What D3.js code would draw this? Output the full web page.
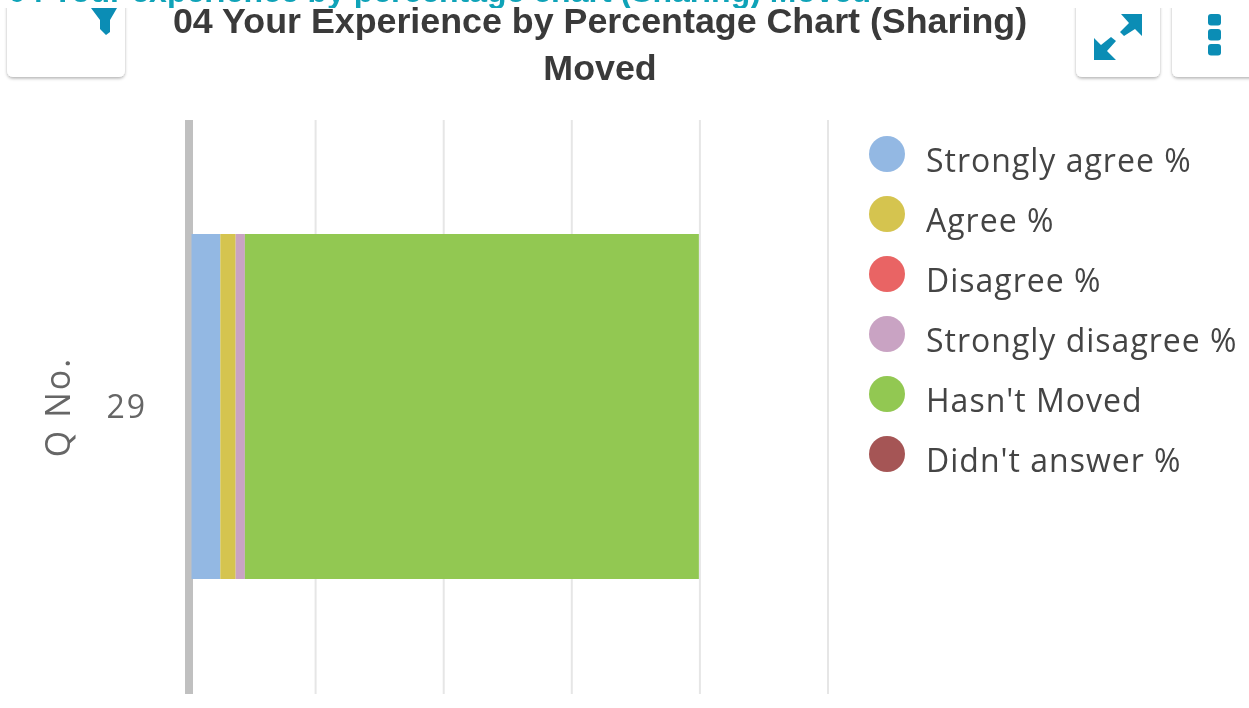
<!DOCTYPE html>
<html><head><meta charset="utf-8">
<script src="https://cdnjs.cloudflare.com/ajax/libs/d3/7.8.5/d3.min.js"></script>
<style>html,body{margin:0;padding:0;background:#fff;overflow:hidden}svg{display:block;filter:blur(.5px)}</style>
</head><body><svg id="c" width="1249" height="708"></svg>
<script>
const categories = ["29"];
const seriesNames = ["Strongly agree %","Agree %","Disagree %","Strongly disagree %","Hasn't Moved","Didn't answer %"];
const seriesValues = [6.4, 3.0, 0, 1.8, 88.6, 0];
const seriesColors = ["#93b8e3","#d5c44f","#e96464","#c9a3c3","#92c852","#a55555"];
const gridTicks = [25,50,75,100,125];
const pageTitle = "04 Your experience by percentage chart (Sharing) Moved";
const chartTitle = ["04 Your Experience by Percentage Chart (Sharing)","Moved"];
const axisTitle = "Q No.";

const svg = d3.select("#c");
const sans = "'Liberation Sans',Arial,sans-serif";
const body = "'Open Sans',sans-serif";

// page heading, cut off by the card below it
svg.append("text").attr("x",8).attr("y",2).attr("font-family",sans).attr("font-weight",700)
  .attr("font-size",32).attr("fill","#0fa3b8").text(pageTitle);

// toolbar buttons, clipped at the card's top edge
const defs = svg.append("defs");
const f = defs.append("filter").attr("id","sh").attr("x","-10%").attr("y","-10%").attr("width","120%").attr("height","130%");
f.append("feDropShadow").attr("dx",0).attr("dy",1.5).attr("stdDeviation",1.5).attr("flood-color","#000").attr("flood-opacity",.3);
defs.append("clipPath").attr("id","card").append("rect").attr("x",0).attr("y",8).attr("width",1249).attr("height",700);
const btns = [[7,118],[1076,84],[1172,90]];
const bg = svg.append("g").attr("clip-path","url(#card)");
bg.append("rect").attr("x",0).attr("y",8).attr("width",1249).attr("height",700).attr("fill","#fff");
btns.forEach(([x,w])=>{
  bg.append("rect").attr("x",x).attr("y",-10).attr("width",w).attr("height",87).attr("rx",6).attr("fill","#fff").attr("filter","url(#sh)");
});
const icon = "#0b8db5";
// filter icon
svg.append("path").attr("fill",icon).attr("d","M91 8H117L110 20V32L106 35L100 29V20Z");
// expand icon
const ex = svg.append("g").attr("fill",icon);
ex.append("path").attr("d","M1142 14V36L1135 29L1124 36L1120 32L1129 23L1121 14Z");
ex.append("path").attr("d","M1094 60V38L1101 45L1111 37L1116 41L1107 51L1116 60Z");
// kebab
[14,29,44].forEach(y=>{
  svg.append("rect").attr("x",1208).attr("y",y).attr("width",13).attr("height",11.500).attr("rx",3).attr("fill",icon);
});

// titles
svg.append("g").selectAll("text").data(chartTitle).join("text")
  .attr("x",600).attr("y",(d,i)=>[33,80][i]).attr("text-anchor","middle")
  .attr("font-family",sans).attr("font-weight",700).attr("font-size",35.800).attr("fill","#3a3a3a").text(d=>d);

// scales
const plot = {top:120,bottom:694};
const x = d3.scaleLinear().domain([0,125]).range([187.500,828]);
const y = d3.scaleBand().domain(categories).range([plot.top,plot.bottom]).paddingInner(0).paddingOuter(0.1);

// grid
svg.append("g").selectAll("line").data(gridTicks).join("line")
  .attr("x1",d=>x(d)).attr("x2",d=>x(d)).attr("y1",plot.top).attr("y2",plot.bottom)
  .attr("stroke","#e6e6e6").attr("stroke-width",2);

// axis line
svg.append("line").attr("x1",x(0)+1.5).attr("x2",x(0)+1.5).attr("y1",plot.top).attr("y2",plot.bottom)
  .attr("stroke","#c0c0c0").attr("stroke-width",8);

// stacked bars
let acc = 0;
const stacks = seriesValues.map((v,i)=>{const s={v,i,start:acc,end:acc+v};acc+=v;return s;});
const barPad = 4; // bar starts just inside the thick axis line
svg.append("g").selectAll("rect").data(stacks.filter(d=>d.v>0)).join("rect")
  .attr("x",d=>Math.max(x(d.start),x(0)+barPad))
  .attr("width",d=>x(d.end)-Math.max(x(d.start),x(0)+barPad))
  .attr("y",234).attr("height",345)
  .attr("fill",d=>seriesColors[d.i]);

// category labels
svg.append("g").selectAll("text").data(categories).join("text")
  .attr("x",147).attr("y",d=>y(d)+y.bandwidth()/2+11).attr("text-anchor","end")
  .attr("font-family",body).attr("font-size",32).attr("letter-spacing",2).attr("fill","#666").text(d=>d);

svg.append("text").attr("transform","translate(70,407) rotate(-90)").attr("text-anchor","middle")
  .attr("font-family",body).attr("font-size",34).attr("letter-spacing",2).attr("fill","#666").text(axisTitle);

// legend
const lg = svg.append("g").selectAll("g").data(seriesNames).join("g")
  .attr("transform",(d,i)=>`translate(887,${154+60*i})`);
lg.append("circle").attr("r",18).attr("fill",(d,i)=>seriesColors[i]);
lg.append("text").attr("x",39).attr("y",18).attr("font-family",body).attr("font-size",32).attr("letter-spacing",1).attr("fill","#444").text(d=>d);
</script></body></html>
